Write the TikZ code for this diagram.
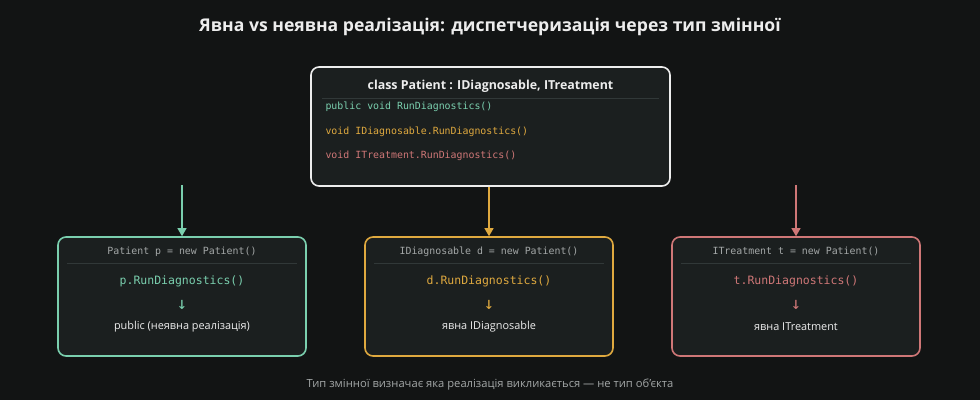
\documentclass[tikz,border=0pt]{standalone}
\usepackage{fontspec}
\setmainfont{Open Sans}
\setmonofont{DejaVu Sans Mono}
\usetikzlibrary{positioning, calc, arrows.meta}

\definecolor{bgdark}{HTML}{121414}
\definecolor{boxfill}{HTML}{1B1F1F}
\definecolor{sepline}{HTML}{313838}
\definecolor{implgreen}{HTML}{7ACFAE}
\definecolor{implgold}{HTML}{DFA93F}
\definecolor{implred}{HTML}{CF7777}
\definecolor{txtgray}{HTML}{A3A7A7}
\definecolor{txtwhite}{HTML}{EDEDED}

\tikzset{
  panel/.style={draw, rounded corners=8pt, line width=1.6pt, fill=boxfill, inner sep=0pt},
  codeline/.style={anchor=west, font=\ttfamily\fontsize{9.9}{11}\selectfont},
  headline/.style={font=\ttfamily\fontsize{9.9}{11}\selectfont, text=txtgray},
  callline/.style={font=\ttfamily\fontsize{11.5}{13}\selectfont},
  downline/.style={font=\ttfamily\fontsize{17}{19}\selectfont},
  resline/.style={font=\fontsize{10.9}{12}\selectfont, text=txtwhite},
  dispatch/.style={line width=1.1pt, -{Triangle[width=9pt,length=8pt]}},
}

\begin{document}
\begin{tikzpicture}[x=1pt, y=-1pt]
\fill[bgdark] (0,0) rectangle (980,400);
\node[font=\bfseries\fontsize{17.6}{20}\selectfont, text=txtwhite] (title) at (490,27) {Явна vs неявна реалізація: диспетчеризація через тип змінної};

% Class
\node[panel, draw=txtwhite, minimum width=359pt, minimum height=119pt] (cls) at (490.5,126.5) {};
\node[font=\bfseries\fontsize{12.4}{14}\selectfont, text=txtwhite] (clsname) at (490.5,86) {class Patient : IDiagnosable, ITreatment};
\draw[sepline, line width=0.8pt] (322,98) -- (659,98);
\node[codeline, text=implgreen] (m-pub) at (322,107) {public void RunDiagnostics()};
\node[codeline, text=implgold] (m-diag) at (322,131.5) {void IDiagnosable.RunDiagnostics()};
\node[codeline, text=implred] (m-treat) at (322,156) {void ITreatment.RunDiagnostics()};

% Variables
\foreach \x/\col/\nm/\decl/\res in {182/implgreen/p/Patient p = new Patient()/public (неявна реалізація),
    489/implgold/d/IDiagnosable d = new Patient()/явна IDiagnosable,
    796/implred/t/ITreatment t = new Patient()/явна ITreatment} {
  \node[panel, draw=\col, minimum width=248pt, minimum height=119pt] (box-\nm) at (\x,296.5) {};
  \node[headline] (decl-\nm) at (\x,251.5) {\decl};
  \draw[sepline, line width=0.8pt] ($(box-\nm.north west)+(10,27)$) -- ($(box-\nm.north east)+(-10,27)$);
  \node[callline, text=\col] (call-\nm) at (\x,281.5) {\nm.RunDiagnostics()};
  \node[downline, text=\col] (down-\nm) at (\x,305) {↓};
  \node[resline] (res-\nm) at (\x,327) {\res};
}

% Dispatch arrows
\coordinate (src-p) at (182,185);
\coordinate (src-t) at (796,185);
\draw[dispatch, implgreen] (src-p) -- (box-p.north);
\draw[dispatch, implgold] (cls.south -| box-d.north) -- (box-d.north);
\draw[dispatch, implred] (src-t) -- (box-t.north);

\node[font=\fontsize{11.2}{13}\selectfont, text=txtgray] (note) at (490,385) {Тип змінної визначає яка реалізація викликається — не тип об'єкта};
\end{tikzpicture}
\end{document}
